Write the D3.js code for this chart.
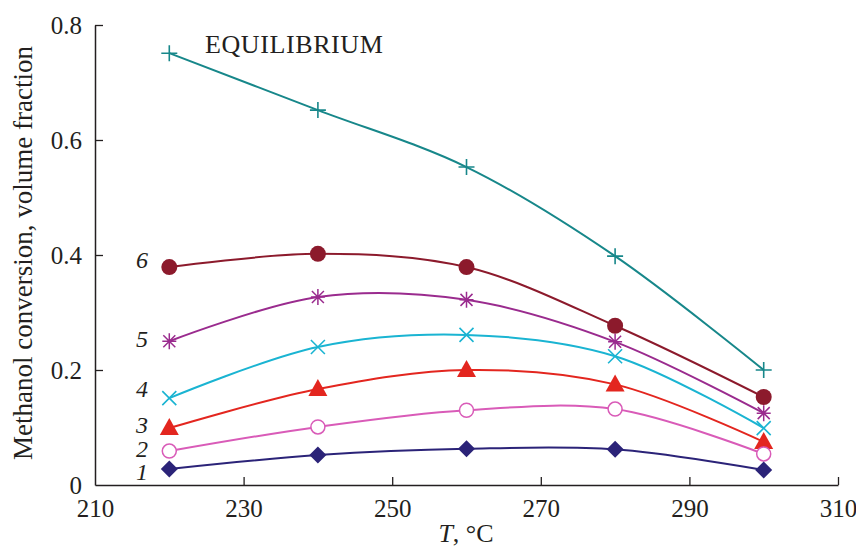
<!DOCTYPE html>
<html>
<head>
<meta charset="utf-8">
<script src="https://cdn.jsdelivr.net/npm/d3@7"></script>
<style>
  body { margin: 0; background: #fff; }
  svg text { font-family: 'Liberation Serif', 'Times New Roman', serif; fill: #231f20; }
</style>
</head>
<body>
<div class="chart"></div>
<script>
'use strict';

// Data
const temps = [220, 240, 260, 280, 300];
const equilibrium = [0.751, 0.652, 0.553, 0.398, 0.200];
const series6 = [0.379, 0.402, 0.379, 0.277, 0.153];
const series5 = [0.250, 0.327, 0.322, 0.249, 0.125];
const series4 = [0.151, 0.240, 0.261, 0.224, 0.099];
const series3 = [0.099, 0.167, 0.200, 0.175, 0.075];
const series2 = [0.059, 0.101, 0.130, 0.132, 0.054];
const series1 = [0.028, 0.052, 0.063, 0.062, 0.026];
const xTicks = [210, 230, 250, 270, 290, 310];
const yTicks = [0, 0.2, 0.4, 0.6, 0.8];
const seriesLabels = ['EQUILIBRIUM', '6', '5', '4', '3', '2', '1'];

// Initialize
const w = 856;
const h = 550;
const margin = { left: 95, right: 18, top: 25, bottom: 65 };

const svg = d3.select('.chart')
              .append('svg')
              .attr('width', w)
              .attr('height', h);

const xScale = d3.scaleLinear()
                 .domain([210, 310])
                 .range([margin.left, w - margin.right]);

const yScale = d3.scaleLinear()
                 .domain([0, 0.8])
                 .range([h - margin.bottom, margin.top]);

// Axes
const xAxis = d3.axisBottom(xScale).tickValues(xTicks).tickSizeInner(-8).tickSizeOuter(0).tickPadding(14);
const yAxis = d3.axisLeft(yScale).tickValues(yTicks).tickSizeInner(-8).tickSizeOuter(0).tickPadding(13)
                .tickFormat(d => d === 0 ? '0' : d3.format('.1f')(d));

const gx = svg.append('g')
  .attr('transform', `translate(0, ${h - margin.bottom})`)
  .call(xAxis);

const gy = svg.append('g')
  .attr('transform', `translate(${margin.left}, 0)`)
  .call(yAxis);

[gx, gy].forEach(g => {
  g.attr('font-family', null);
  g.select('.domain').attr('stroke', '#231f20').attr('stroke-width', 1.5);
  g.selectAll('.tick line').attr('stroke', '#231f20').attr('stroke-width', 1.3);
  g.selectAll('.tick text').style('font-size', '25px').attr('fill', '#231f20');
});
// 210 and 0 sit on the other axis: no tick mark there
gx.selectAll('.tick').filter(d => d === 210).select('line').remove();
gy.selectAll('.tick').filter(d => d === 0).select('line').remove();

// Axis titles
const xt = svg.append('text')
  .attr('x', 466)
  .attr('y', 542)
  .attr('text-anchor', 'middle')
  .style('font-size', '26px');
xt.append('tspan').style('font-style', 'italic').text('T');
xt.append('tspan').text(', °C');

svg.append('text')
  .attr('transform', `translate(32, 253) rotate(-90)`)
  .attr('text-anchor', 'middle')
  .style('font-size', '27px')
  .text('Methanol conversion, volume fraction');

// Series
const series = [
  { name: 'EQUILIBRIUM', values: equilibrium, color: '#17878a', marker: 'plus' },
  { name: '6', values: series6, color: '#8c1a2c', marker: 'circle' },
  { name: '5', values: series5, color: '#9a2b8e', marker: 'asterisk' },
  { name: '4', values: series4, color: '#1ab4d2', marker: 'cross' },
  { name: '3', values: series3, color: '#e3261f', marker: 'triangle' },
  { name: '2', values: series2, color: '#d95bb8', marker: 'ring' },
  { name: '1', values: series1, color: '#2b2378', marker: 'diamond' }
];

const line = d3.line()
  .x(d => xScale(d[0]))
  .y(d => yScale(d[1]))
  .curve(d3.curveCatmullRom.alpha(0.5));

series.forEach(s => {
  const pts = temps.map((t, i) => [t, s.values[i]]);
  svg.append('path')
    .datum(pts)
    .attr('fill', 'none')
    .attr('stroke', s.color)
    .attr('stroke-width', 2)
    .attr('d', line);

  const g = svg.append('g');
  pts.forEach(p => {
    const cx = xScale(p[0]);
    const cy = yScale(p[1]);
    const m = g.append('g').attr('transform', `translate(${cx}, ${cy})`);
    if (s.marker === 'plus') {
      m.append('path').attr('d', 'M-8,0H8M0,-8V8').attr('stroke', s.color).attr('stroke-width', 1.6);
    } else if (s.marker === 'circle') {
      m.append('circle').attr('r', 8).attr('fill', s.color);
    } else if (s.marker === 'asterisk') {
      m.append('path').attr('d', 'M-7,0H7M0,-8V8M-6,-6L6,6M-6,6L6,-6').attr('stroke', s.color).attr('stroke-width', 1.5);
    } else if (s.marker === 'cross') {
      m.append('path').attr('d', 'M-7,-7L7,7M-7,7L7,-7').attr('stroke', s.color).attr('stroke-width', 1.6);
    } else if (s.marker === 'triangle') {
      m.append('path').attr('d', 'M0,-10L9.5,7H-9.5Z').attr('fill', s.color);
    } else if (s.marker === 'ring') {
      m.append('circle').attr('r', 7).attr('fill', '#fff').attr('stroke', s.color).attr('stroke-width', 1.5);
    } else if (s.marker === 'diamond') {
      m.append('path').attr('d', 'M0,-8.5L8.5,0L0,8.5L-8.5,0Z').attr('fill', s.color);
    }
  });
});

// Series labels
svg.append('text')
  .attr('x', 205)
  .attr('y', 53)
  .style('font-size', '26px')
  .style('letter-spacing', '0.6px')
  .text(seriesLabels[0]);

const labelY = [268, 347, 397, 433, 457, 480];
seriesLabels.slice(1).forEach((lab, i) => {
  svg.append('text')
    .attr('x', 142)
    .attr('y', labelY[i])
    .attr('text-anchor', 'middle')
    .style('font-size', '24px')
    .style('font-style', 'italic')
    .text(lab);
});
</script>
</body>
</html>
